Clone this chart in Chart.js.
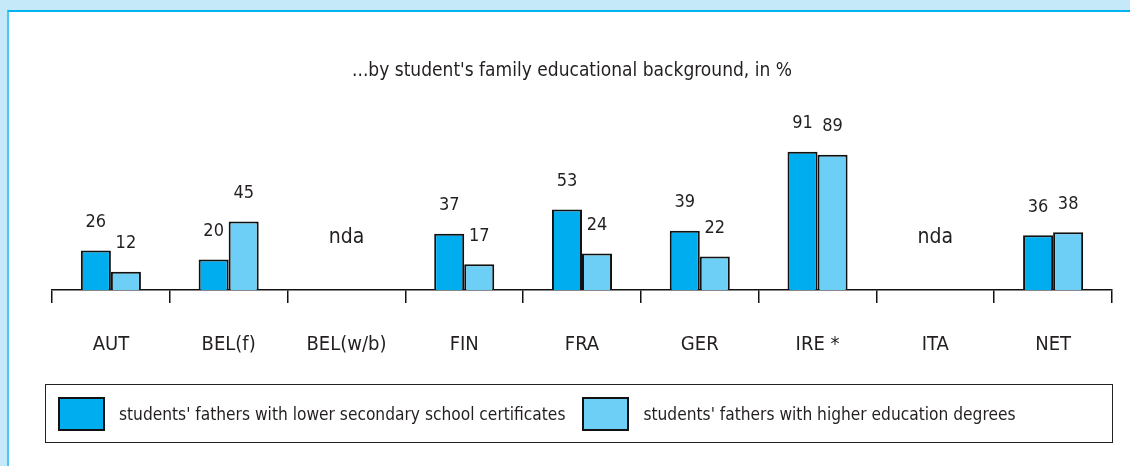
<!DOCTYPE html>
<html>
<head>
<meta charset="utf-8">
<script src="https://cdn.jsdelivr.net/npm/chart.js@4"></script>
<style>
  body { margin: 0; background: #c6e9f9; font-family: "Liberation Sans Narrow", "DejaVu Sans Condensed", sans-serif; }
  #wrap { position: relative; width: 1130px; height: 466px; overflow: hidden; }
  #panel { position: absolute; left: 7px; top: 10px; right: 0; bottom: 0; background: #fff;
           border-top: 2px solid #00b4f0; border-left: 2px solid #4cc6f4; }
  #chart { position: absolute; left: 0; top: 0; }
  #legend { position: absolute; left: 45px; top: 384px; width: 1066px; height: 57px;
            border: 1.5px solid #222; display: flex; align-items: center; color: #231f20; font-size: 17.2px; }
  .item { display: flex; align-items: center; }
  .swatch { width: 43px; height: 30px; border: 2px solid #111; margin: 0 14px 0 12px; }
  .item + .item .swatch { margin-left: 17px; }
</style>
</head>
<body>
<div id="wrap">
  <div id="panel"></div>
  <canvas id="chart" width="1130" height="466"></canvas>
  <div id="legend"></div>
</div>
<script>
const categories = ["AUT", "BEL(f)", "BEL(w/b)", "FIN", "FRA", "GER", "IRE *", "ITA", "NET"];
const seriesNames = [
  "students' fathers with lower secondary school certificates",
  "students' fathers with higher education degrees"
];
const lowerSecondary = [26, 20, null, 37, 53, 39, 91, null, 36];
const higherEducation = [12, 45, null, 17, 24, 22, 89, null, 38];
const seriesColors = ["#00aeef", "#6dcff6"];
const titleText = "...by student's family educational background, in %";
const noDataText = "nda";

const FONT = "'Liberation Sans Narrow', 'DejaVu Sans Condensed', sans-serif";
const TEXT = "#231f20";

// title, value labels above bars, "nda" where a country has no data
const valueLabels = {
  id: "valueLabels",
  afterDatasetsDraw(chart) {
    const ctx = chart.ctx;
    ctx.save();
    ctx.fillStyle = TEXT;
    ctx.textAlign = "center";
    ctx.textBaseline = "middle";

    ctx.font = "19px " + FONT;
    ctx.fillText(titleText, 572, 71);

    ctx.font = "18px " + FONT;
    chart.data.datasets.forEach((ds, i) => {
      chart.getDatasetMeta(i).data.forEach((bar, j) => {
        if (ds.data[j] == null) return;
        ctx.fillText(ds.data[j], bar.x, bar.y - 28);
      });
    });
    const x = chart.scales.x, y = chart.scales.y;
    ctx.font = "21px " + FONT;
    categories.forEach((c, j) => {
      if (chart.data.datasets.every((ds) => ds.data[j] == null)) {
        ctx.fillText(noDataText, x.getPixelForValue(j), y.getPixelForValue(0) - 52);
      }
    });
    ctx.restore();
  }
};

const drawChart = () => {
  const ctx = document.getElementById("chart").getContext("2d");
  const myChart = new Chart(ctx, {
    type: "bar",
    data: {
      labels: categories,
      datasets: [lowerSecondary, higherEducation].map((d, i) => ({
        label: seriesNames[i],
        data: d,
        backgroundColor: seriesColors[i],
        borderColor: "#111",
        borderWidth: 2,
        barPercentage: 1,
        categoryPercentage: 0.51
      }))
    },
    options: {
      responsive: false,
      animation: false,
      layout: { padding: { left: 52, right: 18, top: 138, bottom: 79 } },
      plugins: {
        legend: { display: false },
        tooltip: { enabled: false },
        title: { display: false }
      },
      scales: {
        x: {
          grid: { offset: true, drawOnChartArea: false, tickLength: 13, color: "#111", lineWidth: 1.5 },
          border: { display: true, color: "#111", width: 1.5 },
          ticks: { padding: 30, color: TEXT, font: { family: FONT, size: 20 } }
        },
        y: { display: false, min: 0, max: 100 }
      }
    },
    plugins: [valueLabels]
  });
};

document.fonts.load("20px 'Liberation Sans Narrow'").then(drawChart, drawChart);

// legend box below the chart
const legend = document.getElementById("legend");
seriesNames.forEach((name, i) => {
  const item = document.createElement("div");
  item.className = "item";
  const sw = document.createElement("div");
  sw.className = "swatch";
  sw.style.background = seriesColors[i];
  const label = document.createElement("span");
  label.textContent = name;
  item.appendChild(sw);
  item.appendChild(label);
  legend.appendChild(item);
});
</script>
</body>
</html>
